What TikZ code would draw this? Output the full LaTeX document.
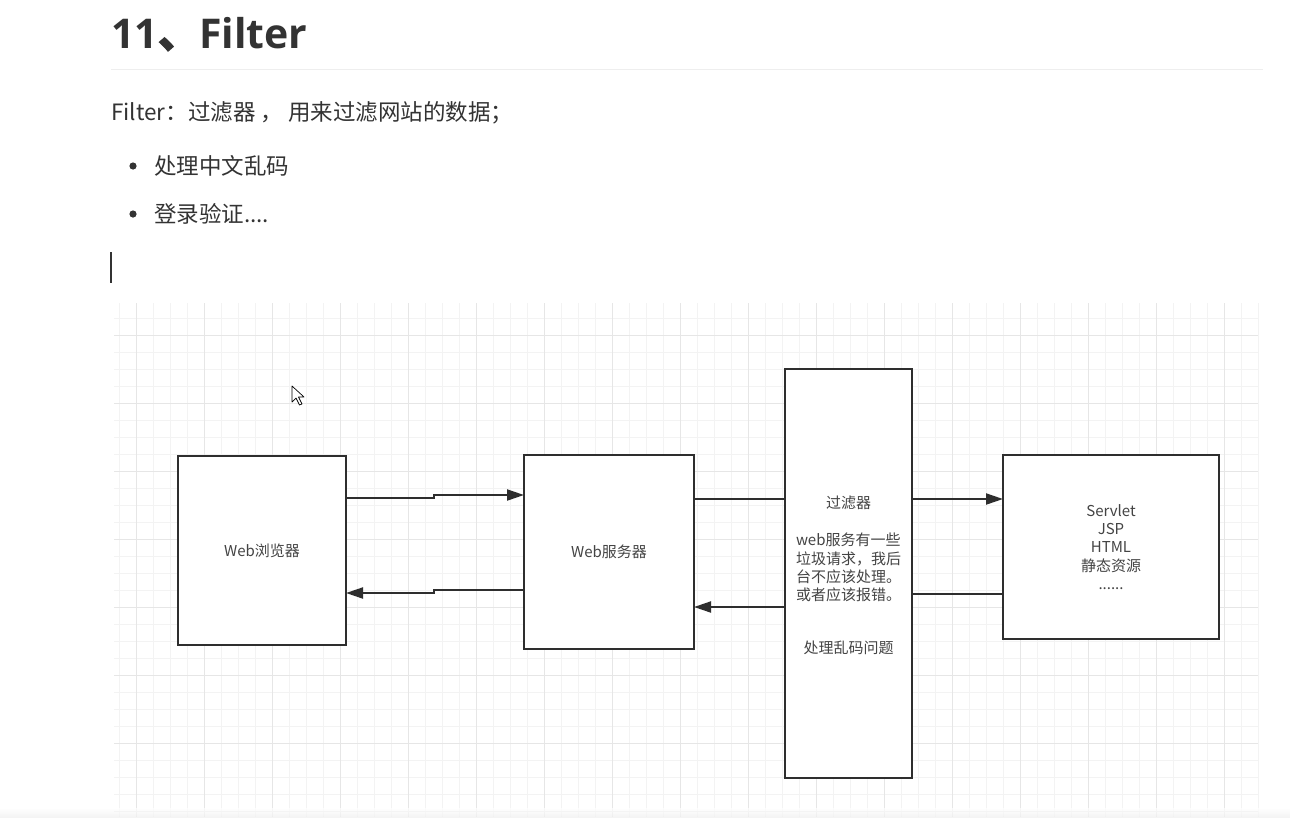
\documentclass[tikz,border=0pt]{standalone}
\usepackage{fontspec}
\setmainfont{Noto Sans CJK SC}
\newfontfamily\opensans{Open Sans}
\newfontfamily\cjkbold{Noto Sans CJK SC}[FakeBold=2.5]
\usetikzlibrary{arrows.meta}
\definecolor{txt}{HTML}{333333}
\definecolor{dtxt}{HTML}{444444}
\definecolor{boxline}{HTML}{2E2E2E}
\definecolor{gridminor}{HTML}{F3F3F3}
\definecolor{gridmajor}{HTML}{E6E6E6}
\definecolor{rulec}{HTML}{EEEEEE}
\tikzset{
  blk/.style={draw=boxline, line width=2.1pt, fill=white, rectangle, outer sep=0pt, inner sep=0pt,
     text=dtxt, font=\fontsize{15}{18.3}\selectfont, align=center},
  conn/.style={draw=boxline, line width=2pt},
  arr/.style={conn, -{Triangle[length=17pt,width=11pt]}},
  lbl/.style={text=dtxt, font=\fontsize{15}{18.3}\selectfont, inner sep=0pt},
  bodytext/.style={text=txt, font=\fontsize{22.5}{27}\selectfont, inner sep=0pt, anchor=base west}
}
\begin{document}
\begin{tikzpicture}[x=1pt,y=-1pt]
\useasboundingbox (0,0) rectangle (1290,817);
\fill[white] (0,0) rectangle (1290,817);

% title and text
\node[anchor=base west, inner sep=0pt, text=txt] (title) at (111,48)
  {\fontsize{41}{48}\selectfont\opensans\bfseries 11{\cjkbold 、}Filter};
\draw[rulec, line width=1pt] (111,69) -- (1263,69);
\node[bodytext] (intro) at (111,120) {Filter：过滤器 ， 用来过滤网站的数据；};
\fill[txt] (133,166) circle (3.6);
\node[bodytext] (b1) at (154,174.5) {处理中文乱码};
\fill[txt] (133,214) circle (3.6);
\node[bodytext] (b2) at (154,222.5) {登录验证....};
\draw[txt, line width=1.2pt] (111,252) -- (111,283);

% grid
\foreach \k in {0,...,67} {\draw[gridminor, line width=0.8pt] (119+17*\k,303) -- (119+17*\k,817);}
\foreach \k in {0,...,30} {\draw[gridminor, line width=0.8pt] (114,318+17*\k) -- (1258,318+17*\k);}
\foreach \k in {0,...,16} {\draw[gridmajor, line width=0.9pt] (136+68*\k,303) -- (136+68*\k,817);}
\foreach \k in {0,...,7} {\draw[gridmajor, line width=0.9pt] (114,335+68*\k) -- (1258,335+68*\k);}
\shade[top color=white, bottom color=black!6, opacity=0.7] (0,808) rectangle (1290,817);

% mouse pointer
\draw[black, fill=white, line width=0.7pt, line join=round]
  (292,386) -- (292,402) -- (296,398) -- (299.5,405) -- (302,404) -- (298.5,397) -- (304,397) -- cycle;

% boxes
\node[blk, minimum width=168pt, minimum height=189pt] (browser) at (262,550.5) {Web浏览器};
\node[blk, minimum width=170pt, minimum height=194pt] (server) at (609,552) {Web服务器};
\node[blk, minimum width=127pt, minimum height=409pt] (filter) at (848.5,573.5) {};
\node[blk, minimum width=216pt, minimum height=184pt] (servlet) at (1111,547)
  {Servlet\\JSP\\HTML\\静态资源\\......};

% filter texts
\node[lbl] (ftitle) at (848.5,503) {过滤器};
\node[lbl, align=left] (fdesc) at (848.5,567.5) {web服务有一些\\垃圾请求，我后\\台不应该处理。\\或者应该报错。};
\node[lbl] (fcode) at (848.5,648) {处理乱码问题};

% connectors
\draw[arr] (browser.east |- 0,498) -- (434,498) -- (434,495) -- (server.west |- 0,495);
\draw[arr] (server.west |- 0,590) -- (434,590) -- (434,593) -- (browser.east |- 0,593);
\draw[conn] (server.east |- 0,499) -- (filter.west |- 0,499);
\draw[arr] (filter.west |- 0,607) -- (server.east |- 0,607);
\draw[arr] (filter.east |- 0,499) -- (servlet.west |- 0,499);
\draw[conn] (servlet.west |- 0,594) -- (filter.east |- 0,594);
\end{tikzpicture}
\end{document}
